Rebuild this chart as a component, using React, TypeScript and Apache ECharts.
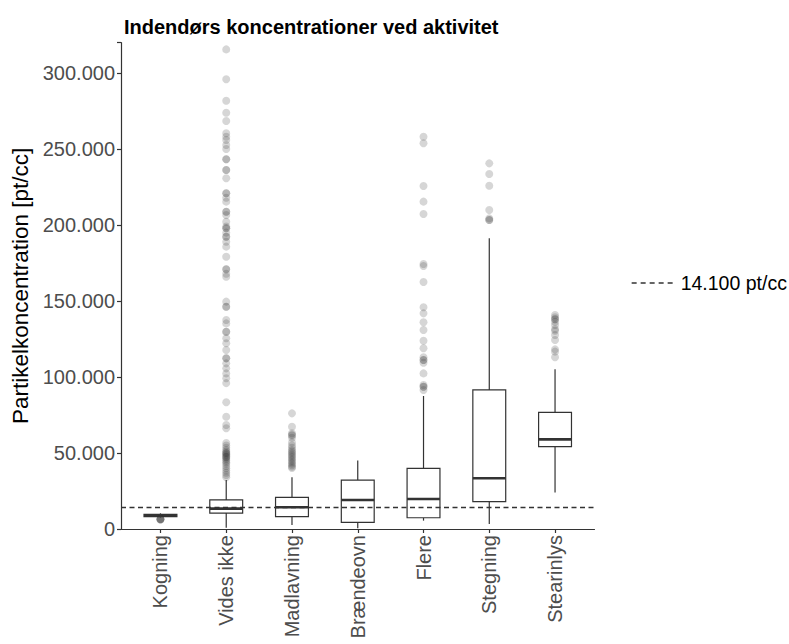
import React, { useEffect, useRef } from "react";
import * as echarts from "echarts";

const categories = ["Kogning", "Vides ikke", "Madlavning", "Brændeovn", "Flere", "Stegning", "Stearinlys"];
const boxMin = [7600, 800, 2600, 500, 5500, 3300, 24100];
const boxQ1 = [8100, 10500, 8100, 4400, 7400, 18000, 54200];
const boxMedian = [9000, 13400, 14300, 19100, 19700, 33400, 59000];
const boxQ3 = [9700, 19100, 20800, 32200, 39900, 91500, 76800];
const boxMax = [10300, 32200, 34000, 45000, 87500, 191300, 105100];

const outliersKogning = [6200, 6300, 6400, 6500, 6600];
const outliersVidesIkke = [
  315600, 295900, 281800, 273900, 268500, 260400, 258100, 256000, 252700, 250000,
  243300, 243300, 236200, 236200, 230800, 220900, 220900, 218000, 215400, 208800,
  208800, 206600, 202200, 199000, 197900, 197900, 195000, 192300, 192300, 189000,
  185800, 179200, 170900, 170900, 168000, 166000, 149600, 146300, 146300, 137500,
  135300, 129800, 129800, 125500, 122200, 117800, 112300, 112300, 109000, 105700,
  102400, 99200, 96000, 83400, 73900, 68400, 66300, 56600, 55000, 53500,
  52000, 51000, 50000, 50000, 49200, 48500, 47500, 47500, 46800, 46000,
  45000, 44000, 43000, 41500, 40000, 38500, 37000, 35500, 34000,
];
const outliersMadlavning = [
  76100, 67300, 63000, 62000, 61500, 60000, 57000, 55000, 53500, 52000, 51000,
  50000, 49000, 48000, 47000, 46000, 45000, 44000, 43000, 42000, 41000, 40100,
];
const outliersBraendeovn: number[] = [];
const outliersFlere = [
  258100, 253800, 225700, 215400, 207300, 174400, 173100, 162500, 145900, 141900,
  136000, 130900, 123900, 118900, 113000, 111200, 111200, 109400, 102400, 94800,
  93600, 93600, 91500,
];
const outliersStegning = [240600, 233600, 225900, 209900, 204400, 203300, 203300];
const outliersStearinlys = [
  140800, 139300, 138000, 138000, 136400, 134200, 131400, 130500, 127700, 124400,
  118200, 116700, 113000,
];
const outlierGroups = [
  outliersKogning, outliersVidesIkke, outliersMadlavning, outliersBraendeovn,
  outliersFlere, outliersStegning, outliersStearinlys,
];
const referenceValue = 14100;
const referenceLabel = "14.100 pt/cc";
const yTicksMax = 320000;

const fmt = (v: number) => {
  const s = Math.round(v).toString();
  return s.replace(/\B(?=(\d{3})+(?!\d))/g, ".");
};

export default function App() {
  const ref = useRef<HTMLDivElement>(null);
  useEffect(() => {
    if (!ref.current) return;
    const chart = echarts.init(ref.current, undefined, { renderer: "svg" });
    const boxData = categories.map((_, i) => [i + 1, boxMin[i], boxQ1[i], boxMedian[i], boxQ3[i], boxMax[i]]);
    const outlierData: number[][] = [];
    outlierGroups.forEach((g, i) => g.forEach((v) => outlierData.push([i + 1, v])));
    const lineColor = "#333333";
    const option: any = {
      animation: false,
      backgroundColor: "#ffffff",
      title: {
        text: "Indendørs koncentrationer ved aktivitet",
        left: 119,
        top: 12,
        textStyle: { fontFamily: "Liberation Sans, Arial, sans-serif", fontSize: 20, fontWeight: "bold", color: "#000" },
      },
      legend: {
        left: 626,
        top: 268,
        itemWidth: 42,
        itemHeight: 20,
        data: [referenceLabel],
        itemStyle: { opacity: 0 },
        lineStyle: { color: "#333333", width: 1.3, type: [5, 4] },
        textStyle: { fontFamily: "Liberation Sans, Arial, sans-serif", fontSize: 19.5, color: "#000", padding: [0, 0, 0, 2] },
      },
      grid: { left: 121, right: 194.5, top: 42.7, bottom: 115 },
      xAxis: {
        type: "value",
        min: 0.4,
        max: 7.6,
        splitLine: { show: false },
        axisLine: { show: true, lineStyle: { color: lineColor, width: 1.2 } },
        axisTick: { show: true, customValues: [1, 2, 3, 4, 5, 6, 7], length: 4, lineStyle: { color: lineColor, width: 1.2 } },
        axisLabel: {
          customValues: [1, 2, 3, 4, 5, 6, 7],
          formatter: (v: number) => categories[Math.round(v) - 1] ?? "",
          rotate: 90,
          margin: 6,
          fontSize: 20,
          color: "#4d4d4d",
          fontFamily: "Liberation Sans, Arial, sans-serif",
        },
      },
      yAxis: {
        type: "value",
        min: 0,
        max: yTicksMax,
        interval: 50000,
        name: "Partikelkoncentration [pt/cc]",
        nameLocation: "middle",
        nameRotate: 90,
        nameGap: 88,
        nameTextStyle: { fontFamily: "Liberation Sans, Arial, sans-serif", fontSize: 22.5, color: "#000" },
        splitLine: { show: false },
        axisLine: { show: true, lineStyle: { color: lineColor, width: 1.2 } },
        axisTick: { show: true, length: 4, lineStyle: { color: lineColor, width: 1.2 } },
        axisLabel: {
          formatter: (v: number) => (v > yTicksMax - 1 ? "" : fmt(v)),
          margin: 6,
          fontSize: 20,
          color: "#4d4d4d",
          fontFamily: "Liberation Sans, Arial, sans-serif",
        },
      },
      series: [
        {
          type: "custom",
          name: "box",
          data: boxData,
          encode: { x: 0, y: [1, 2, 3, 4, 5] },
          renderItem: (params: any, api: any) => {
            const x = api.value(0);
            const pMin = api.coord([x, api.value(1)]);
            const pQ1 = api.coord([x, api.value(2)]);
            const pMed = api.coord([x, api.value(3)]);
            const pQ3 = api.coord([x, api.value(4)]);
            const pMax = api.coord([x, api.value(5)]);
            const hw = api.size([0.5, 0])[0] / 2;
            const cx = pMed[0];
            const st = { stroke: lineColor, lineWidth: 1.2, fill: "none" };
            return {
              type: "group",
              children: [
                { type: "line", shape: { x1: cx, y1: pMax[1], x2: cx, y2: pQ3[1] }, style: st },
                { type: "line", shape: { x1: cx, y1: pQ1[1], x2: cx, y2: pMin[1] }, style: st },
                {
                  type: "rect",
                  shape: { x: cx - hw, y: pQ3[1], width: hw * 2, height: pQ1[1] - pQ3[1] },
                  style: { stroke: lineColor, lineWidth: 1.2, fill: "#ffffff" },
                },
                { type: "line", shape: { x1: cx - hw, y1: pMed[1], x2: cx + hw, y2: pMed[1] }, style: { stroke: lineColor, lineWidth: 2.6 } },
              ],
            };
          },
          z: 2,
        },
        {
          type: "scatter",
          name: "outliers",
          data: outlierData,
          symbolSize: 8,
          itemStyle: { color: "#333333", opacity: 0.2 },
          z: 3,
        },
        {
          type: "line",
          name: referenceLabel,
          data: [[0.4, referenceValue], [7.6, referenceValue]],
          symbol: "none",
          lineStyle: { color: "#333333", width: 1.4, type: [5, 3.5] },
          itemStyle: { color: "#333333" },
          z: 4,
        },
      ],
    };
    chart.setOption(option);
    return () => chart.dispose();
  }, []);
  return <div ref={ref} style={{ position: "absolute", left: 0, top: 0, width: 789, height: 644 }} />;
}
